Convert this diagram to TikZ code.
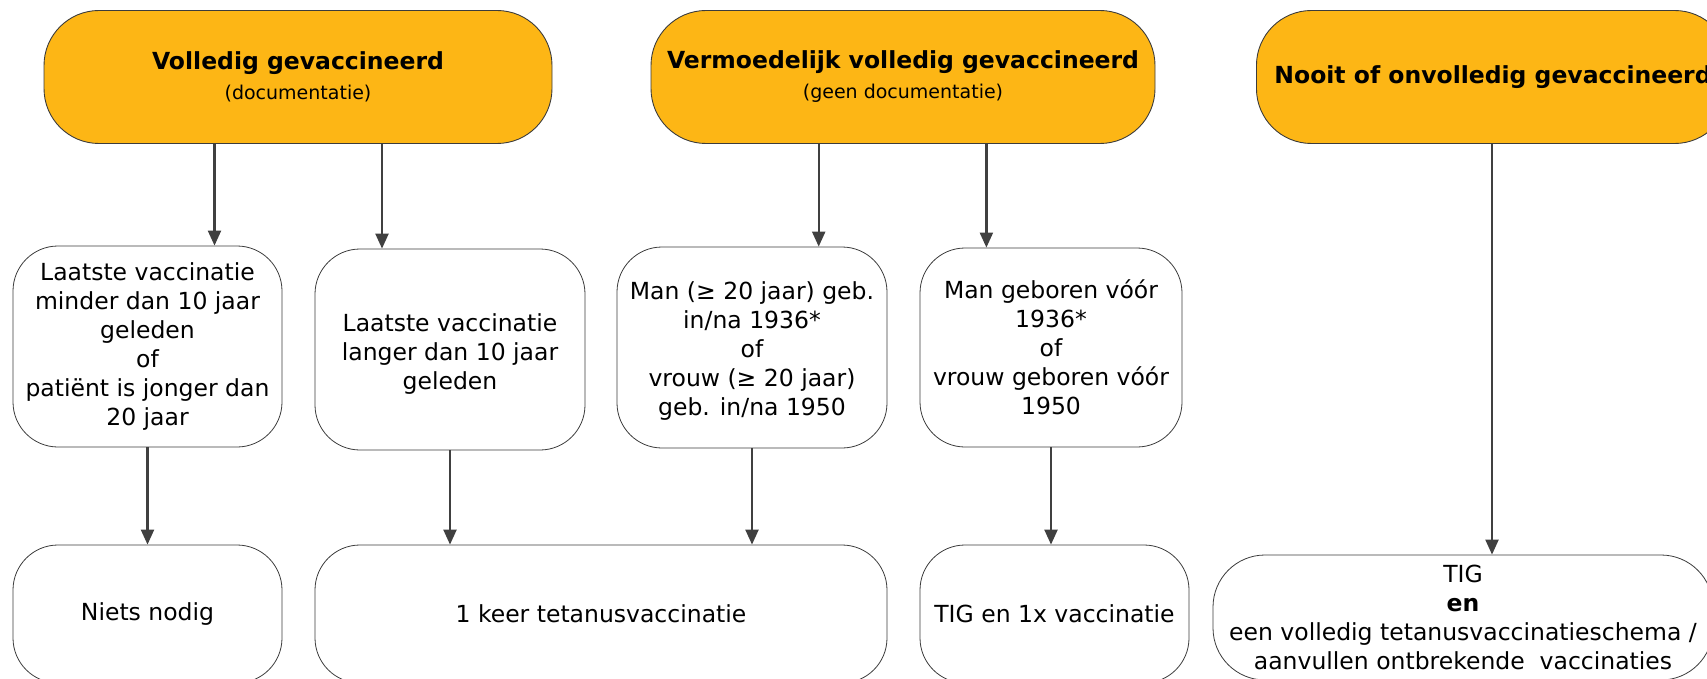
\documentclass[tikz,border=0pt]{standalone}
\usepackage{fontspec}
\setmainfont{DejaVu Sans}
\usetikzlibrary{arrows.meta}
\definecolor{hdr}{RGB}{253,182,21}
\definecolor{edgec}{RGB}{64,64,64}
\definecolor{boxline}{RGB}{60,60,60}
\begin{document}
\begin{tikzpicture}[x=1pt,y=-1pt,
  hdrbox/.style={draw=boxline, line width=0.9pt, fill=hdr, rounded corners=55pt,
    minimum height=133pt, inner sep=0pt, align=center,
    font=\fontsize{23.5}{30}\selectfont\bfseries},
  wbox/.style={draw=boxline, line width=0.8pt, fill=white, rounded corners=45pt,
    inner sep=0pt, align=center, font=\fontsize{23.5}{29}\selectfont},
  arr/.style={draw=edgec, line width=2.2pt, -{Triangle[length=15pt,width=13pt]}}]
\useasboundingbox (0,0) rectangle (1707,679);
\begin{scope}
\clip (0,0) rectangle (1707,679);
% headers
\node[hdrbox, minimum width=508pt] (A) at (298,77)
  {Volledig gevaccineerd\\[0pt]{\mdseries\fontsize{19}{24}\selectfont (documentatie)}};
\node[hdrbox, minimum width=504pt] (B) at (903,77)
  {Vermoedelijk volledig gevaccineerd\\[0pt]{\mdseries\fontsize{19}{24}\selectfont (geen documentatie)}};
\node[hdrbox, anchor=west, inner xsep=18pt] (C) at (1256,77)
  {Nooit of onvolledig gevaccineerd};
% middle row
\node[wbox, minimum width=269pt, minimum height=201pt] (M1) at (147.5,346.5)
  {Laatste vaccinatie\\minder dan 10 jaar\\geleden\\of\\patiënt is jonger dan\\20 jaar};
\node[wbox, minimum width=270pt, minimum height=201pt] (M2) at (450,349.5)
  {\raisebox{-5pt}[\height][\depth]{\begin{tabular}{@{}c@{}}Laatste vaccinatie\\langer dan 10 jaar\\geleden\end{tabular}}};
\node[wbox, minimum width=270pt, minimum height=201pt] (M3) at (752,347.5)
  {\raisebox{-4pt}[\height][\depth]{\begin{tabular}{@{}c@{}}Man (≥ 20 jaar) geb.\\in/na 1936*\\of\\vrouw (≥ 20 jaar)\\geb. in/na 1950\end{tabular}}};
\node[wbox, minimum width=262pt, minimum height=199pt] (M4) at (1051,347.5)
  {Man geboren vóór\\1936*\\of\\vrouw geboren vóór\\1950};
% bottom row
\node[wbox, minimum width=269pt, minimum height=138pt] (B1) at (147.5,614) {Niets nodig};
\node[wbox, minimum width=572pt, minimum height=138pt] (B2) at (601,614) {1 keer tetanusvaccinatie};
\node[wbox, minimum width=269pt, minimum height=138pt] (B3) at (1054.5,614) {TIG en 1x vaccinatie};
\node[wbox, rounded corners=52pt, minimum width=500pt, minimum height=125pt] (B4) at (1463,617.5)
  {TIG\\\textbf{en}\\een volledig tetanusvaccinatieschema /\\aanvullen ontbrekende\ \ vaccinaties};
% x positions of connectors
\coordinate (xa1) at (214.5,0);
\coordinate (xa2) at (382,0);
\coordinate (xb1) at (818.7,0);
\coordinate (xb2) at (986.4,0);
\coordinate (xc) at (1492,0);
% connectors
\draw[arr] (A.south -| xa1) -- (M1.north -| xa1);
\draw[arr] (A.south -| xa2) -- (M2.north -| xa2);
\draw[arr] (B.south -| xb1) -- (M3.north -| xb1);
\draw[arr] (B.south -| xb2) -- (M4.north -| xb2);
\draw[arr] (C.south -| xc) -- (B4.north -| xc);
\draw[arr] (M1.south) -- (B1.north);
\draw[arr] (M2.south) -- (M2.south |- B2.north);
\draw[arr] (M3.south) -- (M3.south |- B2.north);
\draw[arr] (M4.south) -- (M4.south |- B3.north);
\end{scope}
\end{tikzpicture}
\end{document}
